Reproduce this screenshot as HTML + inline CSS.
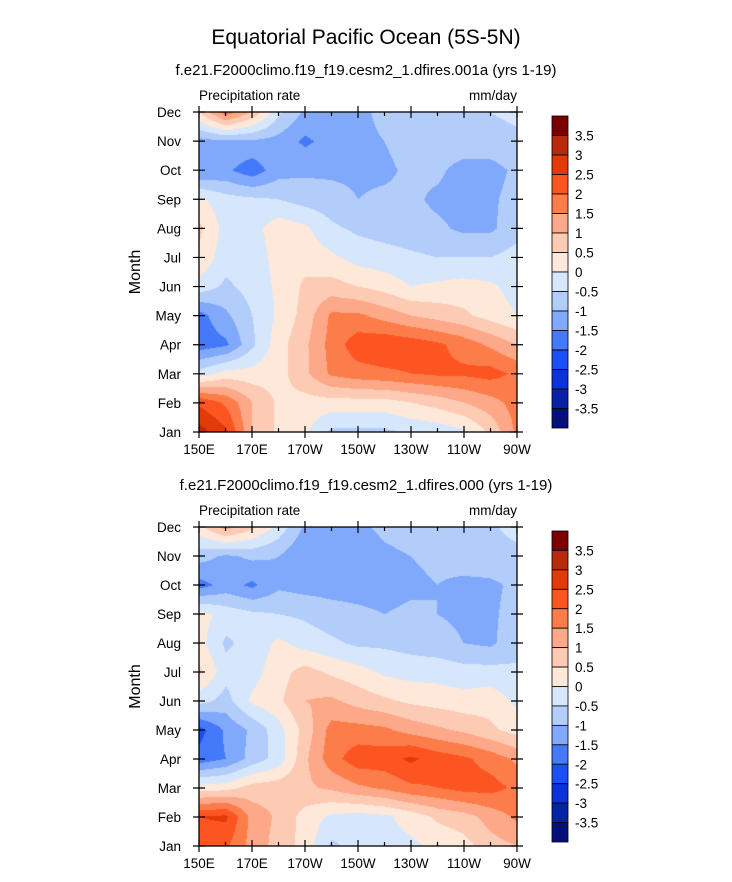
<!DOCTYPE html>
<html><head><meta charset="utf-8"><style>
body{margin:0;background:#fff;}
#wrap{position:relative;width:732px;height:882px;overflow:hidden;font-family:"Liberation Sans",Arial,sans-serif;}
canvas{position:absolute;}
svg{position:absolute;left:0;top:0;}
</style></head><body>
<div id="wrap">
<canvas id="c1" width="318" height="320" style="left:199px;top:112px"></canvas>
<canvas id="c2" width="318" height="319" style="left:199px;top:527px"></canvas>
<svg id="s" width="732" height="882"></svg>
</div>
<script>
const months = ["Jan","Feb","Mar","Apr","May","Jun","Jul","Aug","Sep","Oct","Nov","Dec"];
const lons = [150,160,170,180,190,200,210,220,230,240,250,260,270];
const xTickLabels = ["150E","170E","170W","150W","130W","110W","90W"];
const xTickLons = [150,170,190,210,230,250,270];
const levels = [-3.5,-3,-2.5,-2,-1.5,-1,-0.5,0,0.5,1,1.5,2,2.5,3,3.5];
const levelColors = ["#05107d","#0722a5","#0a33d9","#1a4ef9","#4479fa","#80a8fb","#b3cdfb","#d6e7fc","#fee8d9","#fdcab3","#fda888","#fd7d4a","#fd5522","#e23a09","#b82a09","#7d0000"];
const cbLabels = ["3.5","3","2.5","2","1.5","1","0.5","0","-0.5","-1","-1.5","-2","-2.5","-3","-3.5"];
const dataA = [
[3.2,2.6,1.0,0.4,0.1,-0.6,-0.6,-0.6,-0.4,-0.3,-0.1,0.6,1.6],
[2.4,1.9,1.0,0.4,0.3,0.3,0.3,0.3,0.5,0.7,1.0,1.3,1.7],
[-0.3,0.2,0.2,0.3,0.9,1.6,1.8,1.9,2.0,2.1,2.1,2.2,1.9],
[-1.8,-1.6,-0.6,0.3,0.9,1.7,2.3,2.4,2.3,2.1,1.8,1.4,1.0],
[-1.7,-1.1,-0.5,0.1,0.7,1.6,1.6,1.3,1.0,0.8,0.6,0.3,0.0],
[-0.2,-0.6,-0.3,0.1,0.6,0.7,0.5,0.3,0.0,0.1,0.2,0.1,-0.2],
[0.4,-0.3,-0.3,0.2,0.3,0.1,-0.2,-0.3,-0.4,-0.5,-0.5,-0.5,-0.3],
[0.6,-0.2,-0.2,0.3,0.1,-0.4,-0.6,-0.7,-0.8,-0.9,-1.1,-1.1,-0.7],
[0.1,-0.3,-0.4,-0.5,-0.7,-0.8,-1.0,-0.9,-0.9,-1.1,-1.2,-1.1,-0.8],
[-1.5,-1.4,-1.8,-1.2,-1.1,-1.1,-1.1,-1.1,-0.9,-0.9,-1.2,-1.2,-0.9],
[-1.2,-1.1,-1.1,-1.2,-1.6,-1.3,-1.1,-1.0,-0.8,-0.7,-0.7,-0.7,-0.6],
[0.5,1.8,0.9,-0.4,-1.1,-1.1,-1.1,-0.9,-0.7,-0.7,-0.6,-0.5,-0.4]];
const dataB = [
[2.2,2.1,1.3,0.8,0.3,-0.6,-0.3,-0.2,-0.1,0.1,0.3,0.8,1.0],
[2.5,2.6,1.3,0.9,0.3,-0.1,-0.2,-0.1,0.2,0.6,0.8,1.2,1.6],
[0.2,0.3,0.7,0.8,0.9,1.1,1.4,1.6,1.9,2.0,2.2,2.2,1.9],
[-1.8,-1.5,-0.8,-0.3,0.9,1.8,2.3,2.3,2.6,2.3,2.1,1.8,1.4],
[-2.2,-1.4,-0.9,-0.2,0.7,1.7,1.7,1.6,1.3,1.1,0.9,0.6,0.3],
[-0.3,-0.7,0.1,0.4,1.0,1.1,0.8,0.6,0.4,0.3,0.2,0.3,-0.1],
[0.6,-0.3,-0.2,0.3,0.7,0.4,0.2,-0.1,-0.2,-0.2,-0.3,-0.3,-0.4],
[0.2,-0.6,-0.3,0.1,-0.2,-0.4,-0.6,-0.6,-0.7,-0.8,-1.0,-1.1,-0.7],
[0.2,-0.2,-0.4,-0.5,-0.6,-0.8,-0.9,-1.0,-0.9,-1.0,-1.1,-1.1,-0.8],
[-1.7,-1.3,-1.6,-1.1,-1.2,-1.2,-1.2,-1.2,-1.1,-1.0,-1.1,-1.1,-0.9],
[-0.8,-1.1,-0.9,-1.0,-1.5,-1.3,-1.3,-1.1,-1.0,-0.9,-0.8,-0.7,-0.7],
[0.3,1.2,0.6,-0.2,-1.1,-1.1,-1.1,-0.9,-0.8,-0.8,-0.7,-0.6,-0.3]];

function colorFor(v){let i=0;while(i<levels.length&&v>=levels[i])i++;return levelColors[i];}
function hex(c){return [parseInt(c.substr(1,2),16),parseInt(c.substr(3,2),16),parseInt(c.substr(5,2),16)];}
function drawField(id,data){
  const cv=document.getElementById(id),ctx=cv.getContext('2d'),W=cv.width,H=cv.height;
  const img=ctx.createImageData(W,H);
  const nx=lons.length-1, ny=months.length-1;
  for(let py=0;py<H;py++){
    const fy=(H-1-py)/(H-1)*ny; const j=Math.min(Math.floor(fy),ny-1), ty=fy-j;
    for(let px=0;px<W;px++){
      const fx=px/(W-1)*nx; const i=Math.min(Math.floor(fx),nx-1), tx=fx-i;
      const v=(data[j][i]*(1-tx)+data[j][i+1]*tx)*(1-ty)+(data[j+1][i]*(1-tx)+data[j+1][i+1]*tx)*ty;
      const c=hex(colorFor(v)); const k=(py*W+px)*4;
      img.data[k]=c[0];img.data[k+1]=c[1];img.data[k+2]=c[2];img.data[k+3]=255;
    }
  }
  ctx.putImageData(img,0,0);
}
drawField('c1',dataA);drawField('c2',dataB);

const svg=document.getElementById('s'),NS="http://www.w3.org/2000/svg";
function el(tag,attrs,parent){const e=document.createElementNS(NS,tag);for(const k in attrs)e.setAttribute(k,attrs[k]);(parent||svg).appendChild(e);return e;}
function txt(x,y,s,size,anchor,parent){const t=el('text',{x:x,y:y,'font-size':size,'text-anchor':anchor||'start',fill:'#000'},parent);t.textContent=s;return t;}

const title=txt(366,44,"Equatorial Pacific Ocean (5S-5N)",21,'middle');



function panel(top,bottom,subtitle,name){
  const L=199,R=517;
  const g=el('g',{});
  
  
  const xs=lon=>L+(lon-150)/120*(R-L);
  const ys=m=>bottom-m/11*(bottom-top);
  const st=txt(366,top-37,subtitle,15,'middle',g);
  
  
  const pr=txt(L,top-12,"Precipitation rate",13.5,'start',g);
  
  
  const un=txt(R,top-12,"mm/day",13.5,'end',g);
  
  
  const fr=el('rect',{x:L,y:top,width:R-L,height:bottom-top,fill:'none',stroke:'#000','stroke-width':1.3},g);
  
  
  for(let lon=150;lon<=270;lon+=10){
    const x=xs(lon),major=xTickLons.includes(lon);
    const d=major?`M${x},${bottom-6}V${bottom+6}M${x},${top-6}V${top+6}`:`M${x},${bottom-4}V${bottom}M${x},${top}V${top+4}`;
    const tk=el('path',{d:d,stroke:'#000','stroke-width':1.2},g);
    
    
  }
  xTickLabels.forEach((s,i)=>{
    const t=txt(xs(xTickLons[i]),bottom+22,s,13.5,'middle',g);
    
    
  });
  months.forEach((m,i)=>{
    const y=ys(i);
    const tk=el('path',{d:`M${L-6},${y}H${L+6}M${R-6},${y}H${R+6}`,stroke:'#000','stroke-width':1.2},g);
    
    
    const t=txt(181,y+5,m,13.5,'end',g);
    
    
  });
  const yt=txt(0,0,"Month",16,'middle',g);
  yt.setAttribute('transform',`translate(140,${(top+bottom)/2}) rotate(-90)`);
  
  
  const cb=el('g',{},g);
  
  
  const cbTop=top+4,cbH=(bottom-top-8)/levelColors.length;
  for(let k=0;k<levelColors.length;k++){
    const col=levelColors[levelColors.length-1-k];
    const r=el('rect',{x:552,y:cbTop+k*cbH,width:16,height:cbH,fill:col,stroke:'#000','stroke-width':0.8},cb);
    
    
  }
  cbLabels.forEach((s,k)=>{
    const t=txt(575,cbTop+(k+1)*cbH+5,s,13.5,'start',cb);
    
    
  });
}
panel(112,432,"f.e21.F2000climo.f19_f19.cesm2_1.dfires.001a (yrs 1-19)","top-panel");
panel(527,846,"f.e21.F2000climo.f19_f19.cesm2_1.dfires.000 (yrs 1-19)","bottom-panel");
</script>
</body></html>
